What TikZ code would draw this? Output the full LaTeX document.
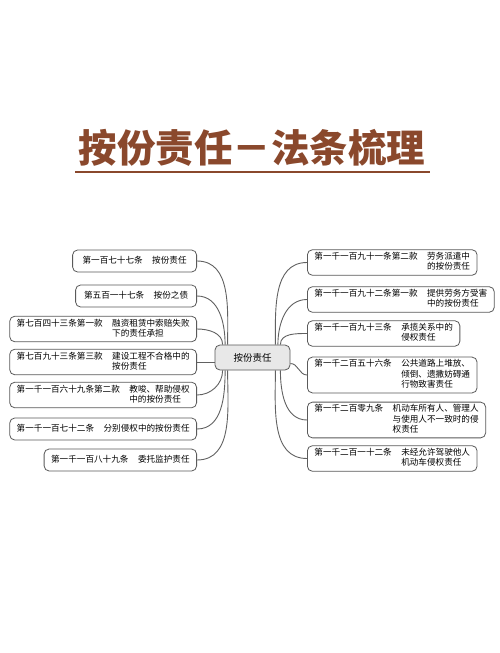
\documentclass[tikz,border=0pt]{standalone}
\usepackage{fontspec}
\setmainfont{Noto Sans CJK SC}
\usetikzlibrary{positioning,calc}
\definecolor{titlebrown}{RGB}{138,72,44}
\definecolor{boxline}{RGB}{90,90,90}
\definecolor{hubfill}{RGB}{232,232,232}
\newcommand{\clause}[2]{\begin{tabular}[t]{@{}l@{\hspace{1.1em}}l@{}}#1 & \begin{tabular}[t]{@{}l@{}}#2\end{tabular}\end{tabular}}
\tikzset{
    mapbox/.style={draw=boxline, line width=0.8pt, rounded corners=5pt, fill=white, inner xsep=7pt, inner ysep=2.5pt, minimum height=22pt, font=\fontsize{8.6}{10}\selectfont},
    leftbox/.style={mapbox, anchor=east},
    rightbox/.style={mapbox, anchor=west},
    hubbox/.style={draw=boxline, line width=0.8pt, rounded corners=5pt, fill=hubfill, minimum width=75pt, minimum height=25pt, font=\fontsize{9.5}{11}\selectfont},
    mapline/.style={draw=black!62, line width=0.9pt}
}

\begin{document}
\begin{tikzpicture}[x=1pt, y=-1pt]
    \fill[white] (0,0) rectangle (500,653);
    \useasboundingbox (0,0) rectangle (500,653);

    % title
    \node[text=titlebrown, font=\fontsize{38.5}{42}\selectfont\bfseries] (title) at (252,148) {按份责任－法条梳理};
    \coordinate (ulstart) at (75,172);
    \coordinate (ulend) at (430,172);
    \draw[titlebrown, line width=2pt] (ulstart) -- (ulend);

    % hub
    \node[hubbox] (hub) at (252.5,357.5) {按份责任};

    % left branches
    \node[leftbox, minimum width=124pt] (L1) at (197,261) {\clause{第一百七十七条}{按份责任}};
    \node[leftbox, minimum width=121pt] (L2) at (197,296) {\clause{第五百一十七条}{按份之债}};
    \node[leftbox] (L3) at (197,329) {\clause{第七百四十三条第一款}{融资租赁中索赔失败\\下的责任承担}};
    \node[leftbox] (L4) at (197,362) {\clause{第七百九十三条第三款}{建设工程不合格中的\\按份责任}};
    \node[leftbox] (L5) at (197,395) {\clause{第一千一百六十九条第二款}{教唆、帮助侵权\\中的按份责任}};
    \node[leftbox] (L6) at (197,429) {\clause{第一千一百七十二条}{分别侵权中的按份责任}};
    \node[leftbox] (L7) at (197,460) {\clause{第一千一百八十九条}{委托监护责任}};

    % right branches
    \node[rightbox] (R1) at (307,262.5) {\clause{第一千一百九十一条第二款}{劳务派遣中\\的按份责任}};
    \node[rightbox] (R2) at (307,299.5) {\clause{第一千一百九十二条第一款}{提供劳务方受害\\中的按份责任}};
    \node[rightbox] (R3) at (307,333.5) {\clause{第一千一百九十三条}{承揽关系中的\\侵权责任}};
    \node[rightbox] (R4) at (307,375) {\clause{第一千二百五十六条}{公共道路上堆放、\\倾倒、遗撒妨碍通\\行物致害责任}};
    \node[rightbox] (R5) at (307,420) {\clause{第一千二百零九条}{机动车所有人、管理人\\与使用人不一致时的侵\\权责任}};
    \node[rightbox] (R6) at (307,458.5) {\clause{第一千二百一十二条}{未经允许驾驶他人\\机动车侵权责任}};

    % connectors
    \draw[mapline] (L1.east) to[out=0, in=90] ([xshift=13pt]hub.north west);
    \draw[mapline] (L2.east) to[out=0, in=90] ([xshift=10.5pt]hub.north west);
    \draw[mapline] (L3.east) to[out=0, in=90] ([xshift=8pt]hub.north west);
    \draw[mapline] (L4.east) -- (L4.east -| hub.west);
    \draw[mapline] (L5.east) to[out=0, in=-90] ([xshift=8pt]hub.south west);
    \draw[mapline] (L6.east) to[out=0, in=-90] ([xshift=10.5pt]hub.south west);
    \draw[mapline] (L7.east) to[out=0, in=-90] ([xshift=13pt]hub.south west);

    \draw[mapline] (R1.west) to[out=180, in=90] ([xshift=-15pt]hub.north east);
    \draw[mapline] (R2.west) to[out=180, in=90] ([xshift=-12.5pt]hub.north east);
    \draw[mapline] (R3.west) to[out=180, in=90] ([xshift=-10pt]hub.north east);
    \draw[mapline] ([yshift=-6pt]hub.east) to[out=0, in=180] (R4.west);
    \draw[mapline] (R5.west) to[out=180, in=-90] ([xshift=-10pt]hub.south east);
    \draw[mapline] (R6.west) to[out=180, in=-90] ([xshift=-15pt]hub.south east);
\end{tikzpicture}
\end{document}
